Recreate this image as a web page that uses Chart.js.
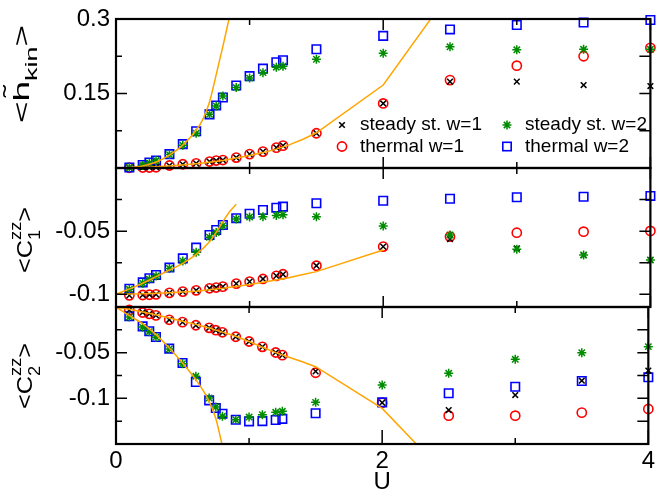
<!DOCTYPE html>
<html><head><meta charset="utf-8">
<script src="https://cdn.jsdelivr.net/npm/chart.js@4/dist/chart.umd.min.js"></script>
<style>
html,body{margin:0;padding:0;background:#fff;}
#wrap{position:relative;width:658px;height:491px;overflow:hidden;background:#fff;}
canvas{position:absolute;left:0;}
</style></head><body>
<div id="wrap">
<canvas id="c1" width="658" height="193" style="top:-3px;width:658px;height:193px"></canvas>
<canvas id="c2" width="658" height="183" style="top:146px;width:658px;height:183px"></canvas>
<canvas id="c3" width="658" height="209" style="top:285px;width:658px;height:209px"></canvas>
</div>
<script>
// ---------------- data ----------------
const U = [0.1,0.2,0.25,0.3,0.4,0.5,0.6,0.7,0.75,0.8,0.9,1.0,1.1,1.2,1.25,1.5,2,2.5,3,3.5,4];

// panel 1 : <h_kin>
const hkinSteadyW1  = [0.0005,0.001,0.001,0.0015,0.005,0.0075,0.0094,0.013,0.015,0.016,0.021,0.028,0.033,0.041,0.045,0.070,0.130,0.174,0.174,0.167,0.165];
const hkinThermalW1 = [0.0005,0.001,0.001,0.0015,0.005,0.0075,0.0094,0.013,0.015,0.016,0.021,0.028,0.033,0.041,0.045,0.070,0.130,0.177,0.206,0.225,0.242];
const hkinSteadyW2  = [0.001,0.005,0.010,0.015,0.027,0.046,0.070,0.108,0.125,0.145,0.162,0.181,0.192,0.203,0.205,0.219,0.231,0.244,0.238,0.239,0.239];
const hkinThermalW2 = [0.001,0.006,0.011,0.015,0.028,0.048,0.074,0.108,0.126,0.142,0.166,0.185,0.200,0.213,0.217,0.239,0.266,0.279,0.288,0.293,0.298];
const hkinFitW2X = [0,0.1,0.2,0.3,0.4,0.5,0.6,0.65,0.7,0.75,0.8,0.85];
const hkinFitW2Y = [0,0.001,0.004,0.012,0.026,0.046,0.076,0.098,0.133,0.188,0.245,0.305];
const hkinFitW1X = [0,0.1,0.2,0.3,0.4,0.5,0.6,0.7,0.8,0.9,1.0,1.1,1.2,1.3,1.4,1.5,2.0,2.5];
const hkinFitW1Y = [0,0.0003,0.001,0.0025,0.004,0.006,0.0085,0.0115,0.015,0.02,0.025,0.031,0.038,0.047,0.058,0.071,0.167,0.354];

// panel 2 : <C1zz>
const c1SteadyW1  = [-0.1008,-0.1005,-0.1003,-0.1,-0.0988,-0.0978,-0.0968,-0.0952,-0.0946,-0.0939,-0.0915,-0.0899,-0.0878,-0.0854,-0.0841,-0.0773,-0.0622,-0.0562,-0.0635,-0.069,-0.0728];
const c1ThermalW1 = [-0.1008,-0.1005,-0.1003,-0.1,-0.0988,-0.0978,-0.0968,-0.0952,-0.0946,-0.0939,-0.0915,-0.0899,-0.0878,-0.0854,-0.0841,-0.0773,-0.0622,-0.0543,-0.0512,-0.0504,-0.0498];
const c1SteadyW2  = [-0.096,-0.0912,-0.088,-0.0855,-0.0795,-0.0736,-0.0667,-0.0548,-0.051,-0.0457,-0.0404,-0.0388,-0.0385,-0.0375,-0.0370,-0.0385,-0.0459,-0.053,-0.0643,-0.0688,-0.0728];
const c1ThermalW2 = [-0.0955,-0.0905,-0.0873,-0.0847,-0.0788,-0.0715,-0.063,-0.053,-0.049,-0.0451,-0.0398,-0.0362,-0.0332,-0.0314,-0.0306,-0.0279,-0.0259,-0.0243,-0.0232,-0.0227,-0.0221];
const c1FitW2X = [0,0.1,0.2,0.3,0.4,0.5,0.6,0.7,0.75,0.8,0.85,0.9];
const c1FitW2Y = [-0.1,-0.0957,-0.0912,-0.086,-0.0807,-0.0754,-0.0683,-0.0583,-0.051,-0.0425,-0.0346,-0.0287];
const c1FitW1X = [0,0.2,0.4,0.6,0.8,1.0,1.2,1.3,1.4,1.5,2.0];
const c1FitW1Y = [-0.1,-0.0996,-0.0987,-0.0975,-0.0952,-0.0922,-0.0887,-0.0866,-0.0843,-0.082,-0.0649];

// panel 3 : <C2zz>
const c2SteadyW1  = [-0.0033,-0.006,-0.0075,-0.0092,-0.014,-0.0166,-0.02,-0.0228,-0.0254,-0.0277,-0.0326,-0.0378,-0.0436,-0.0498,-0.0527,-0.0705,-0.1048,-0.1128,-0.0964,-0.0807,-0.0697];
const c2ThermalW1 = [-0.0033,-0.006,-0.0075,-0.0092,-0.014,-0.0166,-0.02,-0.0228,-0.0254,-0.0277,-0.0326,-0.0378,-0.0436,-0.0498,-0.0527,-0.072,-0.1048,-0.119,-0.119,-0.1157,-0.1117];
const c2SteadyW2  = [-0.011,-0.022,-0.027,-0.033,-0.046,-0.062,-0.0759,-0.0997,-0.1095,-0.1197,-0.1234,-0.1205,-0.1179,-0.1153,-0.1142,-0.1044,-0.0854,-0.0726,-0.0573,-0.05,-0.0434];
const c2ThermalW2 = [-0.0102,-0.0212,-0.0266,-0.0329,-0.0456,-0.0613,-0.0821,-0.1022,-0.1106,-0.1168,-0.1234,-0.1252,-0.125,-0.1237,-0.1225,-0.1164,-0.1044,-0.0945,-0.0873,-0.081,-0.077];
const c2FitW2X = [0,0.1,0.2,0.3,0.4,0.5,0.6,0.7,0.75,0.8,0.85];
const c2FitW2Y = [0,-0.0095,-0.0183,-0.0303,-0.0449,-0.0613,-0.0796,-0.1033,-0.122,-0.153,-0.19];
const c2FitW1X = [0,0.1,0.2,0.3,0.4,0.5,0.6,0.7,0.8,0.9,1.0,1.1,1.2,1.3,1.4,1.5,2.0,2.5];
const c2FitW1Y = [0,-0.0025,-0.0055,-0.0085,-0.012,-0.0155,-0.019,-0.023,-0.0275,-0.032,-0.0378,-0.044,-0.05,-0.055,-0.06,-0.0654,-0.111,-0.187];

// axes / ticks
const xTickMarks  = [0,1,2,3,4];
const xTickLabels = [0,2,4];
const y1TickMarks = [0,0.075,0.15,0.225,0.3];
const y1TickLabels = [0.15,0.3];
const y2TickMarks = [-0.1,-0.075,-0.05,-0.025];
const y2TickLabels = [-0.1,-0.05];
const y3TickMarks = [-0.125,-0.1,-0.075,-0.05,-0.025];
const y3TickLabels = [-0.1,-0.05];
const seriesNames = ['steady st. w=1','thermal w=1','steady st. w=2','thermal w=2'];
const xTitle = 'U';

// ---------------- helpers ----------------
const FONT = '"Liberation Sans", Arial, sans-serif';
const ORANGE = '#FFA500', GREEN = '#008c00', BLUE = '#0000ff', RED = '#ff0000';
const pts = (xs, ys) => xs.map((x, i) => ({x, y: ys[i]}));
const near = (arr, v) => arr.some(a => Math.abs(a - v) < 1e-9);

function seriesSets(sW1, tW1, sW2, tW2, fW2x, fW2y, fW1x, fW1y) {
  const line = (d, mono) => ({data: d, showLine: true, borderColor: ORANGE, borderWidth: 1.5,
    pointRadius: 0, clip: 0, tension: mono ? 0.4 : 0, cubicInterpolationMode: mono ? 'monotone' : 'default'});
  return [
    line(pts(fW2x, fW2y), true),
    line(pts(fW1x, fW1y), false),
    {label: seriesNames[2], data: pts(U, sW2), pointStyle: 'star', pointRadius: 4.5, borderColor: GREEN, backgroundColor: GREEN, borderWidth: 1.5, clip: false},
    {label: seriesNames[0], data: pts(U, sW1), pointStyle: 'crossRot', pointRadius: 4, borderColor: '#000', backgroundColor: '#000', borderWidth: 1.5, clip: false},
    {label: seriesNames[3], data: pts(U, tW2), pointStyle: 'rect', pointRadius: 6, borderColor: BLUE, backgroundColor: 'rgba(0,0,0,0)', borderWidth: 1.6, clip: false},
    {label: seriesNames[1], data: pts(U, tW1), pointStyle: 'circle', pointRadius: 4.6, borderColor: RED, backgroundColor: 'rgba(0,0,0,0)', borderWidth: 1.6, clip: false}
  ];
}

function drawRotTitle(ctx, cx, cy, parts, stretch) {
  ctx.save();
  ctx.translate(cx, cy);
  ctx.rotate(-Math.PI / 2);
  ctx.scale(stretch, 1);
  ctx.fillStyle = '#000';
  ctx.textBaseline = 'alphabetic';
  ctx.textAlign = 'left';
  const widths = parts.map(p => {
    ctx.font = p.s + 'px ' + FONT;
    let w = ctx.measureText(p.t).width;
    if (p.sup) w = Math.max(w, ctx.measureText(p.sup).width);
    return w + (p.gap || 0);
  });
  const total = widths.reduce((a, b) => a + b, 0);
  let x = -total / 2;
  parts.forEach((p, i) => {
    ctx.font = p.s + 'px ' + FONT;
    ctx.fillText(p.t, x, p.dy || 0);
    if (p.sup) ctx.fillText(p.sup, x, p.supDy);
    if (p.tilde) {
      const w = ctx.measureText(p.t).width;
      ctx.textAlign = 'center';
      ctx.fillText('\u02DC', x + w / 2, p.tildeDy);
      ctx.textAlign = 'left';
    }
    x += widths[i];
  });
  ctx.restore();
}

function legendMarker(ctx, style, x, y) {
  ctx.save();
  ctx.lineWidth = 1.6;
  ctx.beginPath();
  if (style === 'crossRot') {
    ctx.strokeStyle = '#000'; const r = 2.8;
    ctx.moveTo(x - r, y - r); ctx.lineTo(x + r, y + r); ctx.moveTo(x - r, y + r); ctx.lineTo(x + r, y - r); ctx.stroke();
  } else if (style === 'circle') {
    ctx.strokeStyle = RED; ctx.arc(x, y, 4.6, 0, Math.PI * 2); ctx.stroke();
  } else if (style === 'star') {
    ctx.strokeStyle = GREEN; const r = 4.5, q = r * Math.SQRT1_2;
    ctx.moveTo(x - r, y); ctx.lineTo(x + r, y); ctx.moveTo(x, y - r); ctx.lineTo(x, y + r);
    ctx.moveTo(x - q, y - q); ctx.lineTo(x + q, y + q); ctx.moveTo(x - q, y + q); ctx.lineTo(x + q, y - q); ctx.stroke();
  } else {
    ctx.strokeStyle = BLUE; ctx.strokeRect(x - 4.2, y - 4.2, 8.4, 8.4);
  }
  ctx.restore();
}

function makePanel(id, datasets, yMin, yMax, yMarks, yLabels, showX, padding, deco) {
  const framePlugin = {
    id: 'frame' + id,
    afterDraw(chart) {
      const ctx = chart.ctx, a = chart.chartArea;
      const xs = chart.scales.x, ys = chart.scales.y;
      ctx.save();
      ctx.strokeStyle = '#000';
      ctx.lineWidth = 1.5;
      ctx.beginPath();
      xTickMarks.forEach(v => {
        const px = xs.getPixelForValue(v);
        const L = near(xTickLabels, v) ? 11 : 6;
        ctx.moveTo(px, a.top); ctx.lineTo(px, a.top + L);
        ctx.moveTo(px, a.bottom); ctx.lineTo(px, a.bottom - (showX && near(xTickLabels, v) ? 14 : L));
      });
      yMarks.forEach(v => {
        const py = ys.getPixelForValue(v);
        const L = near(yLabels, v) ? 11 : 6;
        ctx.moveTo(a.left, py); ctx.lineTo(a.left + L, py);
        ctx.moveTo(a.right, py); ctx.lineTo(a.right - 11, py);
      });
      ctx.stroke();
      ctx.lineWidth = 2.2;
      ctx.strokeRect(a.left, a.top, a.right - a.left, a.bottom - a.top);
      ctx.restore();
      deco(ctx, chart);
    }
  };
  return new Chart(document.getElementById(id), {
    type: 'scatter',
    data: {datasets},
    options: {
      responsive: false, animation: false, events: [],
      layout: {padding},
      plugins: {legend: {display: false}, tooltip: {enabled: false}},
      scales: {
        x: {
          type: 'linear', min: 0, max: 4, display: showX,
          grid: {display: false, drawTicks: false}, border: {display: false},
          afterBuildTicks: s => { s.ticks = xTickMarks.map(v => ({value: v})); },
          afterFit: s => { if (showX) s.height = 50; },
          ticks: {autoSkip: false, maxRotation: 0, padding: 3, color: '#000',
            font: {family: FONT, size: 24, lineHeight: 1.2},
            callback: v => near(xTickLabels, v) ? String(v) : ''},
          title: {display: showX, text: xTitle, color: '#000', padding: {top: 0, bottom: 0},
            font: {family: FONT, size: 24, lineHeight: 1}}
        },
        y: {
          type: 'linear', min: yMin, max: yMax,
          grid: {display: false, drawTicks: false}, border: {display: false},
          afterBuildTicks: s => { s.ticks = yMarks.map(v => ({value: v})); },
          afterFit: s => { s.width = 116; },
          ticks: {autoSkip: false, padding: 6, color: '#000', font: {family: FONT, size: 24},
            callback: v => near(yLabels, v) ? String(v) : ''}
        }
      }
    },
    plugins: [framePlugin]
  });
}

// panel 1  (canvas top = -3)
makePanel('c1',
  seriesSets(hkinSteadyW1, hkinThermalW1, hkinSteadyW2, hkinThermalW2, hkinFitW2X, hkinFitW2Y, hkinFitW1X, hkinFitW1Y),
  0, 0.3, y1TickMarks, y1TickLabels, false, {left: 0, right: 7, top: 22, bottom: 22},
  (ctx) => {
    drawRotTitle(ctx, 29, 77, [
      {t: '<', s: 22}, {t: 'h', s: 22, tilde: true, tildeDy: -10}, {t: 'kin', s: 16, dy: 8}, {t: '>', s: 22}
    ], 1.68);
    ctx.save();
    ctx.font = '19px ' + FONT; ctx.fillStyle = '#000'; ctx.textBaseline = 'middle'; ctx.textAlign = 'left';
    legendMarker(ctx, 'crossRot', 342, 128); ctx.fillText(seriesNames[0], 360, 128);
    legendMarker(ctx, 'circle', 342, 149.5); ctx.fillText(seriesNames[1], 360, 149.5);
    legendMarker(ctx, 'star', 507, 128); ctx.fillText(seriesNames[2], 525, 128);
    legendMarker(ctx, 'rect', 507, 149.5); ctx.fillText(seriesNames[3], 525, 149.5);
    ctx.restore();
  });

// panel 2  (canvas top = 146)
makePanel('c2',
  seriesSets(c1SteadyW1, c1ThermalW1, c1SteadyW2, c1ThermalW2, c1FitW2X, c1FitW2Y, c1FitW1X, c1FitW1Y),
  -0.11, 0, y2TickMarks, y2TickLabels, false, {left: 0, right: 7, top: 22, bottom: 22},
  (ctx) => {
    drawRotTitle(ctx, 32, 94, [
      {t: '<', s: 22}, {t: 'C', s: 22}, {t: '1', s: 16, dy: 8, sup: 'zz', supDy: -11}, {t: '>', s: 22}
    ], 1.15);
  });

// panel 3  (canvas top = 285)
makePanel('c3',
  seriesSets(c2SteadyW1, c2ThermalW1, c2SteadyW2, c2ThermalW2, c2FitW2X, c2FitW2Y, c2FitW1X, c2FitW1Y),
  -0.15, 0, y3TickMarks, y3TickLabels, true, {left: 0, right: 7, top: 22, bottom: 0},
  (ctx) => {
    drawRotTitle(ctx, 32, 91, [
      {t: '<', s: 22}, {t: 'C', s: 22}, {t: '2', s: 16, dy: 8, sup: 'zz', supDy: -11}, {t: '>', s: 22}
    ], 1.15);
  });
</script>
</body></html>
